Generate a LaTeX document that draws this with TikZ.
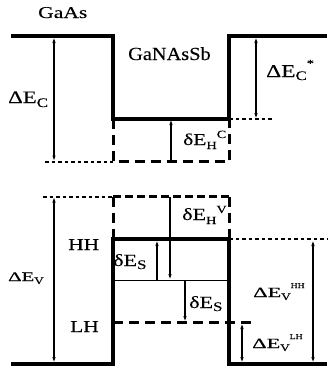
\documentclass[tikz,border=0pt]{standalone}
\usepackage{fontspec}
\setmainfont{Liberation Serif}
\newfontfamily\wfont{Liberation Serif}[FakeStretch=1.3,FakeBold=0.2]
\newfontfamily\nfont{Liberation Serif}[FakeStretch=1.1,FakeBold=0.2]
\newfontfamily\vfont{Liberation Serif}[FakeStretch=1.6,FakeBold=0.2]
\usetikzlibrary{arrows.meta}
\newcommand\lo[3]{\raisebox{#1pt}{\fontsize{#2}{#2}\selectfont #3}}
\newcommand\fsz[1]{\fontsize{#1}{#1}\selectfont}
\begin{document}
\begin{tikzpicture}[x=1pt,y=-1pt,
  band/.style={line width=3.6pt},
  dashband/.style={line width=3pt,dash pattern=on 10pt off 6pt},
  dashthin/.style={line width=2.2pt,dash pattern=on 8pt off 4pt},
  dotband/.style={line width=2pt,dash pattern=on 3.5pt off 3pt},
  thinline/.style={line width=1pt},
  dimarrow/.style={line width=2pt,{Latex[length=6pt,width=3.5pt]}-{Latex[length=6pt,width=3.5pt]}},
  onearrow/.style={line width=2pt,-{Latex[length=6pt,width=3.5pt]}},
  lab/.style={inner sep=0pt,anchor=base west}]
\useasboundingbox (0,0) rectangle (327,372);
% ---- conduction band ----
\coordinate (c1) at (11,36);
\coordinate (c2) at (113,36);
\coordinate (c3) at (113,119);
\coordinate (c4) at (229,119);
\coordinate (c5) at (229,36);
\coordinate (c6) at (327,36);
\coordinate (c7) at (272,119);
\coordinate (c8) at (45,161.5);
\coordinate (c9) at (113,161.5);
\coordinate (c10) at (229,161.5);
\draw[band] (c1) -- (c2) -- (c3) -- (c4) -- (c5) -- (c6);
\draw[dotband] (c4) -- (c7);
\draw[dotband] (c8) -- (c9);
\draw[dashband] (c3) -- (c9) -- (c10) -- (c4);
\coordinate (ecT) at (54,37);
\coordinate (ecB) at (54,161.5);
\draw[dimarrow] (ecT) -- (ecB);
\coordinate (esT) at (256,37);
\coordinate (esB) at (256,119);
\draw[dimarrow] (esT) -- (esB);
\coordinate (hcB) at (171,161.5);
\coordinate (hcT) at (171,119);
\draw[onearrow] (hcB) -- (hcT);
% ---- valence band ----
\coordinate (v0) at (43,196.5);
\coordinate (v1) at (113,196.5);
\coordinate (v2) at (229,196.5);
\coordinate (v3) at (113,239);
\coordinate (v4) at (229,239);
\coordinate (v5) at (327,239);
\coordinate (v6) at (11,364);
\coordinate (v7) at (113,364);
\coordinate (v8) at (229,364);
\coordinate (v9) at (327,364);
\coordinate (t1) at (113,280);
\coordinate (t2) at (229,280);
\coordinate (l1) at (113,322.5);
\coordinate (l2) at (255,322.5);
\draw[dotband] (v0) -- (v1);
\draw[dashthin] (v1) -- (v2);
\draw[dashband] (v1) -- (v3);
\draw[dashband] (v2) -- (v4);
\draw[band] (v6) -- (v7) -- (v3) -- (v4) -- (v8) -- (v9);
\draw[dotband] (v4) -- (v5);
\draw[thinline] (t1) -- (t2);
\draw[dashband] (l1) -- (l2);
\coordinate (evT) at (54,196.5);
\coordinate (evB) at (54,363);
\draw[dimarrow] (evT) -- (evB);
\coordinate (hvT) at (170,196.5);
\coordinate (hvB) at (170,280);
\draw[onearrow] (hvT) -- (hvB);
\coordinate (s1B) at (157,280);
\coordinate (s1T) at (157,240);
\draw[onearrow] (s1B) -- (s1T);
\coordinate (s2T) at (185,280);
\coordinate (s2B) at (185,322);
\draw[onearrow] (s2T) -- (s2B);
\coordinate (lhT) at (242,323);
\coordinate (lhB) at (242,363);
\draw[dimarrow] (lhT) -- (lhB);
\coordinate (hhT) at (313,240);
\coordinate (hhB) at (313,363);
\draw[dimarrow] (hhT) -- (hhB);
% ---- labels ----
\node[lab,font=\wfont\fsz{16.6}] (gaas) at (38,18) {GaAs};
\node[lab,font=\nfont\fsz{18.5}] (ganassb) at (128,60) {GaNAsSb};
\node[lab,font=\wfont\fsz{17.5}] (dec) at (8,103) {ΔE\lo{-4}{13}{C}};
\node[lab,font=\wfont\fsz{18}] (decs) at (266,77) {ΔE\lo{-3}{13}{C}\lo{10}{11}{*}};
\node[lab,font=\wfont\fsz{16.5}] (dhc) at (183,145) {δE\lo{-4}{11}{H}\lo{7}{11}{C}};
\node[lab,font=\vfont\fsz{13}] (dev) at (8,281) {ΔE\lo{-3}{10}{\wfont V}};
\node[lab,font=\wfont\fsz{16.5}] (hh) at (68,250) {HH};
\node[lab,font=\wfont\fsz{16.5}] (lh) at (70,332) {LH};
\node[lab,font=\wfont\fsz{17}] (dhv) at (182,220) {δE\lo{-4}{11}{H}\lo{7}{11}{V}};
\node[lab,font=\wfont\fsz{17}] (ds1) at (113,266) {δE\lo{-3}{13}{S}};
\node[lab,font=\wfont\fsz{17}] (ds2) at (189,308) {δE\lo{-3}{13}{S}};
\node[lab,font=\vfont\fsz{14}] (devhh) at (253,297) {ΔE\lo{-3}{10}{\wfont V}\lo{9}{7.5}{\wfont HH}};
\node[lab,font=\vfont\fsz{14}] (devlh) at (252,348) {ΔE\lo{-3}{10}{\wfont V}\lo{9}{7.5}{\wfont LH}};
\end{tikzpicture}
\end{document}
